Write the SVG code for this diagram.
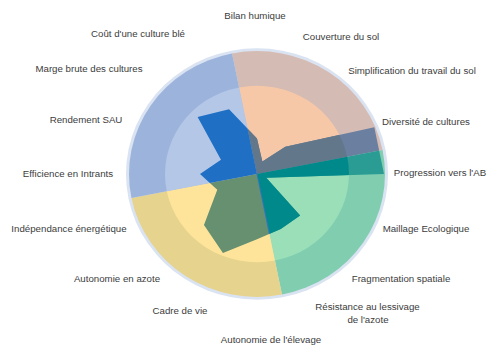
<svg xmlns="http://www.w3.org/2000/svg" xmlns:xlink="http://www.w3.org/1999/xlink" width="487" height="346" viewBox="0 0 487 346">
<style>
.lbl{font-family:"Liberation Sans",Arial,sans-serif;font-size:9.7px;fill:#3c3c3c;text-anchor:middle}
</style>
<rect width="487" height="346" fill="#ffffff"/>
<g id="chart" transform="translate(257,174) scale(1,0.96)">
<defs>
<polygon id="data" points="0,-37 5.36,-12.93 28.28,-28.28 117.33,-48.6 127,0 9.24,3.83 43.13,43.13 23.73,57.28 0,68 -34.06,82.23 -53.03,53.03 -39.73,16.46 -57,0 -36.03,-14.92 -59.4,-59.4 -27.94,-67.44"/>
<clipPath id="cPink"><path d="M0,0 L-24.97,-125.54 A128,128 0 0 1 125.54,-24.97 Z"/></clipPath>
<clipPath id="cGreen"><path d="M0,0 L125.54,-24.97 A128,128 0 0 1 24.97,125.54 Z"/></clipPath>
<clipPath id="cYellow"><path d="M0,0 L24.97,125.54 A128,128 0 0 1 -125.54,24.97 Z"/></clipPath>
<clipPath id="cBlue"><path d="M0,0 L-125.54,24.97 A128,128 0 0 1 -24.97,-125.54 Z"/></clipPath>
<clipPath id="cInner"><circle r="92"/></clipPath>
</defs>
<circle id="ring" r="131" fill="#dae3f1"/>
<g id="sectors-outer">
<path d="M0,0 L-24.97,-125.54 A128,128 0 0 1 125.54,-24.97 Z" fill="#d4bbb3"/>
<path d="M0,0 L125.54,-24.97 A128,128 0 0 1 24.97,125.54 Z" fill="#80cdb0"/>
<path d="M0,0 L24.97,125.54 A128,128 0 0 1 -125.54,24.97 Z" fill="#e5d38e"/>
<path d="M0,0 L-125.54,24.97 A128,128 0 0 1 -24.97,-125.54 Z" fill="#9cb3dc"/>
</g>
<g id="sectors-inner">
<path d="M0,0 L-17.95,-90.23 A92,92 0 0 1 90.23,-17.95 Z" fill="#f6c8a8"/>
<path d="M0,0 L90.23,-17.95 A92,92 0 0 1 17.95,90.23 Z" fill="#9adfb8"/>
<path d="M0,0 L17.95,90.23 A92,92 0 0 1 -90.23,17.95 Z" fill="#fee49a"/>
<path d="M0,0 L-90.23,17.95 A92,92 0 0 1 -17.95,-90.23 Z" fill="#b4c7e7"/>
</g>
<g id="data-outer">
<use xlink:href="#data" clip-path="url(#cPink)" fill="#6b80a0"/>
<use xlink:href="#data" clip-path="url(#cGreen)" fill="#2a9c93"/>
</g>
<g id="data-inner" clip-path="url(#cInner)">
<use xlink:href="#data" clip-path="url(#cPink)" fill="#62788a"/>
<use xlink:href="#data" clip-path="url(#cGreen)" fill="#00898b"/>
<use xlink:href="#data" clip-path="url(#cYellow)" fill="#66906f"/>
<use xlink:href="#data" clip-path="url(#cBlue)" fill="#1f6fc4"/>
</g>
<line x1="0" y1="0" x2="12.4" y2="62.4" stroke="#2d72c4" stroke-width="1"/>
</g>
<g id="labels">
<text class="lbl" x="255" y="18.5">Bilan humique</text>
<text class="lbl" x="138" y="37">Coût d'une culture blé</text>
<text class="lbl" x="341" y="40">Couverture du sol</text>
<text class="lbl" x="89" y="72">Marge brute des cultures</text>
<text class="lbl" x="412" y="73.5">Simplification du travail du sol</text>
<text class="lbl" x="86" y="123">Rendement SAU</text>
<text class="lbl" x="426" y="124.5">Diversité de cultures</text>
<text class="lbl" x="68" y="177">Efficience en Intrants</text>
<text class="lbl" x="440" y="175.5">Progression vers l'AB</text>
<text class="lbl" x="69" y="232">Indépendance énergétique</text>
<text class="lbl" x="426" y="232">Maillage Ecologique</text>
<text class="lbl" x="117" y="282">Autonomie en azote</text>
<text class="lbl" x="401" y="282">Fragmentation spatiale</text>
<text class="lbl" x="180" y="313.5">Cadre de vie</text>
<text class="lbl" x="367.5" y="310">Résistance au lessivage</text>
<text class="lbl" x="368" y="323">de l'azote</text>
<text class="lbl" x="271" y="342.5">Autonomie de l'élevage</text>
</g>
</svg>
